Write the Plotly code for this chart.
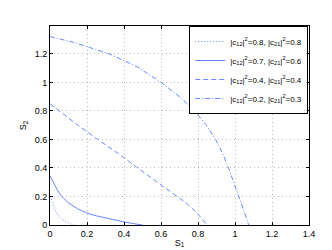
import plotly.graph_objects as go

# curve data
s1_a = [0.0, 0.008, 0.015, 0.024, 0.042, 0.069, 0.096, 0.115, 0.13]
s2_a = [0.2, 0.18, 0.162, 0.116, 0.07, 0.036, 0.015, 0.006, 0.0]

s1_b = [0.0, 0.02, 0.04, 0.06, 0.08, 0.1, 0.15, 0.2, 0.25, 0.3, 0.35, 0.4, 0.45, 0.5]
s2_b = [0.345, 0.29, 0.245, 0.205, 0.178, 0.155, 0.113, 0.084, 0.064, 0.049, 0.035, 0.022, 0.01, 0.0]

s1_c = [0.0, 0.03, 0.14, 0.258, 0.37, 0.474, 0.58, 0.69, 0.74, 0.79, 0.85]
s2_c = [0.85, 0.82, 0.71, 0.6, 0.5, 0.4, 0.3, 0.2, 0.15, 0.09, 0.0]

s1_d = [0.0, 0.13, 0.32, 0.47, 0.6, 0.70, 0.782, 0.845, 0.895, 0.934, 0.965, 0.994, 1.022, 1.048, 1.074]
s2_d = [1.32, 1.28, 1.2, 1.11, 1.0, 0.9, 0.8, 0.7, 0.6, 0.5, 0.4, 0.3, 0.2, 0.1, 0.0]

names = [
    "|c<sub>12</sub>|<sup>2</sup>=0.8, |c<sub>21</sub>|<sup>2</sup>=0.8",
    "|c<sub>12</sub>|<sup>2</sup>=0.7, |c<sub>21</sub>|<sup>2</sup>=0.6",
    "|c<sub>12</sub>|<sup>2</sup>=0.4, |c<sub>21</sub>|<sup>2</sup>=0.4",
    "|c<sub>12</sub>|<sup>2</sup>=0.2, |c<sub>21</sub>|<sup>2</sup>=0.3",
]
dashes = ["1px,2px", "solid", "5px,3px", "5px,2px,1px,2px"]
xs = [s1_a, s1_b, s1_c, s1_d]
ys = [s2_a, s2_b, s2_c, s2_d]

x_ticks = [0, 0.2, 0.4, 0.6, 0.8, 1, 1.2, 1.4]
x_tick_text = ["0", "0.2", "0.4", "0.6", "0.8", "1", "1.2", "1.4"]
y_ticks = [0, 0.2, 0.4, 0.6, 0.8, 1, 1.2]
y_tick_text = ["0", "0.2", "0.4", "0.6", "0.8", "1", "1.2"]

color = "rgb(105,135,255)"
fig = go.Figure()
for x, y, n, d in zip(xs, ys, names, dashes):
    fig.add_trace(go.Scatter(x=x, y=y, mode="lines", name=n,
                             line=dict(color=color, width=1, dash=d)))

axis_common = dict(
    showline=True, linecolor="black", linewidth=1, mirror="ticks",
    ticks="inside", ticklen=3, tickcolor="black",
    showgrid=True, gridcolor="rgb(185,185,185)", griddash="1px,3px", gridwidth=1,
    zeroline=False, tickfont=dict(size=9, color="black"),
)
fig.update_layout(
    width=332, height=250,
    margin=dict(l=42, r=31, t=18, b=28),
    paper_bgcolor="white", plot_bgcolor="white",
    font=dict(family="Liberation Sans, Arial, sans-serif", size=9, color="black"),
    xaxis=dict(**axis_common, tickvals=x_ticks, ticktext=x_tick_text, range=[0, 1.4],
               title=dict(text="S<sub>1</sub>", standoff=1, font=dict(size=9))),
    yaxis=dict(**axis_common, tickvals=y_ticks, ticktext=y_tick_text, range=[0, 1.395],
               title=dict(text="S<sub>2</sub>", standoff=6, font=dict(size=9))),
    legend=dict(x=0.997, y=1.0, xanchor="right", yanchor="top",
                bgcolor="white", bordercolor="black", borderwidth=1,
                font=dict(size=8), tracegroupgap=0),
    showlegend=True,
)
fig.write_html("out.html")
